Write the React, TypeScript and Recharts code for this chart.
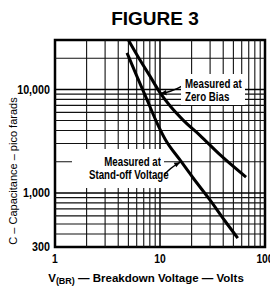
import React from 'react';
import { ComposedChart, Line, XAxis, YAxis, ReferenceLine, ReferenceArea } from 'recharts';

// Measured at Zero Bias
const zeroBiasVolts = [5, 6.45, 8, 10, 12.5, 16.6, 24, 37, 66];
const zeroBiasPf = [30000, 19200, 13500, 9300, 6900, 5050, 3600, 2350, 1420];

// Measured at Stand-off Voltage
const standoffVolts = [4.85, 6, 7.5, 9.4, 11.2, 15.5, 20.6, 30, 41.6, 55];
const standoffPf = [22500, 13500, 8000, 4700, 3300, 2080, 1400, 850, 535, 366];

const xTicks = [1, 10, 100];
const yTicks = [300, 1000, 10000];
const xGridMinor = [2, 3, 4, 5, 6, 7, 8, 9, 20, 30, 40, 50, 60, 70, 80, 90];
const xGridMajor = [10];
const yGridMinor = [400, 500, 600, 700, 800, 900, 2000, 3000, 4000, 5000, 6000, 7000, 8000, 9000, 20000];
const yGridMajor = [1000, 10000];

const zeroBias = zeroBiasVolts.map((v, i) => ({ v, c: zeroBiasPf[i] }));
const standoff = standoffVolts.map((v, i) => ({ v, c: standoffPf[i] }));

const SANS = "'Liberation Sans', Arial, sans-serif";

const makeArrow = (bend: number) => (props: any) => {
  const { x1, y1, x2, y2 } = props;
  const mx = (x1 + x2) / 2;
  const my = (y1 + y2) / 2;
  const dx = x2 - x1;
  const dy = y2 - y1;
  const len = Math.hypot(dx, dy) || 1;
  const nx = -dy / len;
  const ny = dx / len;
  const cx = mx + nx * bend;
  const cy = my + ny * bend;
  const ax = x2 - cx;
  const ay = y2 - cy;
  const al = Math.hypot(ax, ay) || 1;
  const ux = ax / al;
  const uy = ay / al;
  const hl = 6;
  const hw = 2.6;
  const bx = x2 - ux * hl;
  const by = y2 - uy * hl;
  return (
    <g>
      <path d={`M${x1},${y1} Q${cx},${cy} ${x2},${y2}`} stroke="#000" strokeWidth={1.4} fill="none" />
      <path
        d={`M${x2},${y2} L${bx - uy * hw},${by + ux * hw} L${bx + uy * hw},${by - ux * hw} Z`}
        fill="#000"
      />
    </g>
  );
};

const fmtY = (v: number) => v.toLocaleString('en-US');

const XTick = (props: any) => {
  const { x, y, payload } = props;
  return (
    <text
      x={x}
      y={y}
      dy="0.71em"
      textAnchor="middle"
      transform={`translate(${x},0) scale(0.86,1) translate(${-x},0)`}
      fontFamily={SANS}
      fontWeight="bold"
      fontSize={12}
      fill="#000"
    >
      {payload.value}
    </text>
  );
};

const YTick = (props: any) => {
  const { x, y, payload } = props;
  return (
    <text
      x={x}
      y={y}
      dy="0.355em"
      textAnchor="end"
      transform={`translate(${x},0) scale(0.86,1) translate(${-x},0)`}
      fontFamily={SANS}
      fontWeight="bold"
      fontSize={12.5}
      fill="#000"
    >
      {fmtY(payload.value)}
    </text>
  );
};

const condensed = (origin: string): React.CSSProperties => ({
  transform: 'scaleX(0.81)',
  transformOrigin: origin,
});

export default function App() {
  return (
    <div style={{ position: 'absolute', left: 0, top: 0, width: 270, height: 286, background: '#fff', overflow: 'hidden' }}>
      <ComposedChart width={270} height={286} margin={{ top: 40, right: 5, bottom: 0, left: 0 }}>
        <XAxis
          dataKey="v"
          type="number"
          scale="log"
          domain={[1, 100]}
          ticks={xTicks}
          allowDataOverflow
          axisLine={false}
          tickLine={false}
          tickSize={0}
          tickMargin={7}
          height={39}
          interval={0}
          tick={<XTick />}
        />
        <YAxis
          dataKey="c"
          type="number"
          scale="log"
          domain={[300, 30000]}
          ticks={yTicks}
          allowDataOverflow
          axisLine={false}
          tickLine={false}
          tickSize={0}
          tickMargin={5}
          width={55}
          interval={0}
          tick={<YTick />}
        />
        {xGridMinor.map((x) => (
          <ReferenceLine key={'vx' + x} x={x} stroke="#111" strokeWidth={1.1} />
        ))}
        {xGridMajor.map((x) => (
          <ReferenceLine key={'VX' + x} x={x} stroke="#000" strokeWidth={1.5} />
        ))}
        {yGridMinor.map((y) => (
          <ReferenceLine key={'hy' + y} y={y} stroke="#111" strokeWidth={1.1} />
        ))}
        {yGridMajor.map((y) => (
          <ReferenceLine key={'HY' + y} y={y} stroke="#000" strokeWidth={1.5} />
        ))}
        <ReferenceArea x1={1} x2={100} y1={300} y2={30000} fill="none" fillOpacity={0} stroke="#000" strokeWidth={2.5} />
        <Line data={zeroBias} dataKey="c" type="monotone" stroke="#000" strokeWidth={3} dot={false} isAnimationActive={false} />
        <Line data={standoff} dataKey="c" type="monotone" stroke="#000" strokeWidth={3} dot={false} isAnimationActive={false} />
        <ReferenceLine
          segment={[{ x: 16.2, y: 10760 }, { x: 10.1, y: 9100 }]}
          shape={makeArrow(-2)}
        />
        <ReferenceLine
          segment={[{ x: 10.7, y: 1456 }, { x: 15.6, y: 1980 }]}
          shape={makeArrow(-2)}
        />
      </ComposedChart>

      <div style={{ position: 'absolute', left: 90, top: 9, width: 130, textAlign: 'center', fontFamily: SANS, fontWeight: 'bold', fontSize: 19, lineHeight: '19px', whiteSpace: 'nowrap' }}>
        FIGURE 3
      </div>

      <div style={{ position: 'absolute', left: 181, top: 74, width: 64, height: 31, boxSizing: 'border-box', padding: '4px 0 0 4px', background: '#fff', fontFamily: SANS, fontWeight: 'bold', fontSize: 12, lineHeight: '13px', whiteSpace: 'nowrap' }}>
        <div style={condensed('left')}>Measured at</div>
        <div style={condensed('left')}>Zero Bias</div>
      </div>

      <div style={{ position: 'absolute', left: 72, top: 149, width: 92, height: 39, boxSizing: 'border-box', padding: '7px 3px 0 0', textAlign: 'right', background: '#fff', fontFamily: SANS, fontWeight: 'bold', fontSize: 12, lineHeight: '13px', whiteSpace: 'nowrap' }}>
        <div style={condensed('right')}>Measured at</div>
        <div style={condensed('right')}>Stand-off Voltage</div>
      </div>

      <div style={{ position: 'absolute', left: 13, top: 171, transform: 'translate(-50%, -50%) rotate(-90deg)', fontFamily: SANS, fontSize: 11, lineHeight: '11px', whiteSpace: 'nowrap' }}>
        C – Capacitance – pico farads
      </div>

      <div style={{ position: 'absolute', left: 46, top: 273, width: 200, textAlign: 'center', fontFamily: SANS, fontWeight: 'bold', fontSize: 11.5, lineHeight: '11px', whiteSpace: 'nowrap' }}>
        V<span style={{ fontSize: 9, position: 'relative', top: 2 }}>(BR)</span> — Breakdown Voltage — Volts
      </div>
    </div>
  );
}
